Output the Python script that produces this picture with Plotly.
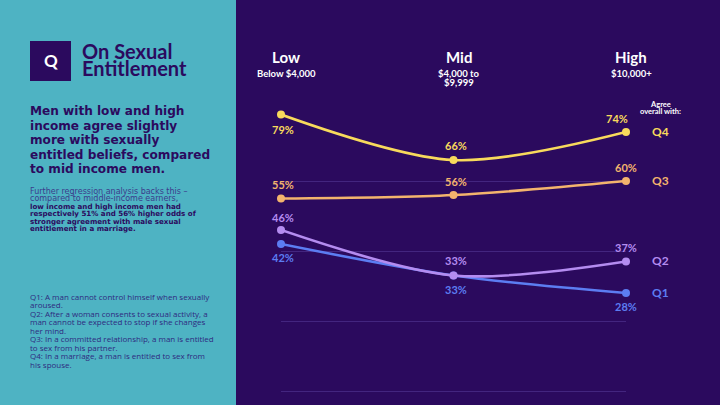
import plotly.graph_objects as go

W, H = 720, 405

categories = ["Low", "Mid", "High"]
cat_sub = [["Below $4,000"], ["$4,000 to", "$9,999"], ["$10,000+"]]
series_names = ["Q1", "Q2", "Q3", "Q4"]
q1 = [42, 33, 28]
q2 = [46, 33, 37]
q3 = [55, 56, 60]
q4 = [79, 66, 74]
series_values = [q1, q2, q3, q4]
# label offsets (px, + is up) for each point's value label
label_shift = {
    "Q1": [-13, -14, -13],
    "Q2": [13, 15, 14],
    "Q3": [14, 14, 14],
    "Q4": [-15, 15, 14],
}
label_xshift = {
    "Q1": [2, 2, 0],
    "Q2": [2, 2, 0],
    "Q3": [2, 2, 0],
    "Q4": [2, 2, -9],
}
colors = {"Q1": "#5C7DF2", "Q2": "#B48CF0", "Q3": "#F3B46D", "Q4": "#F8DA5C"}
y_ticks = [0, 20, 40, 60, 80]

BG = "#2B0A5E"
TEAL = "#4EB3C3"
DARK = "#2B0A5E"
BODY = "#2E2A80"

title_lines = ["On Sexual", "Entitlement"]
headline_lines = [
    "Men with low and high",
    "income agree slightly",
    "more with sexually",
    "entitled beliefs, compared",
    "to mid income men.",
]
para_lines = [
    ("Further regression analysis backs this \u2013", False),
    ("compared to middle-income earners,", False),
    ("low income and high income men had", True),
    ("respectively 51% and 56% higher odds of", True),
    ("stronger agreement with male sexual", True),
    ("entitlement in a marriage.", True),
]
q_def_lines = [
    "Q1: A man cannot control himself when sexually",
    "aroused.",
    "Q2: After a woman consents to sexual activity, a",
    "man cannot be expected to stop if she changes",
    "her mind.",
    "Q3: In a committed relationship, a man is entitled",
    "to sex from his partner.",
    "Q4: In a marriage, a man is entitled to sex from",
    "his spouse.",
]

fig = go.Figure()
xs = list(range(len(categories)))
for name, vals in zip(series_names, series_values):
    fig.add_trace(go.Scatter(
        x=xs, y=vals, mode="lines+markers", name=name,
        line=dict(color=colors[name], width=2.6, shape="spline", smoothing=0.9),
        marker=dict(color=colors[name], size=8),
        cliponaxis=False, showlegend=False, hoverinfo="skip",
    ))

ann = []
def px_text(x, y, text, size, color, bold=False, family="Open Sans", xanchor="left"):
    ann.append(dict(
        xref="paper", yref="paper", x=x / W, y=1 - y / H, text=f"<b>{text}</b>" if bold else text,
        showarrow=False, xanchor=xanchor, yanchor="middle",
        font=dict(size=size, color=color, family=family),
    ))

# left panel texts
for i, t in enumerate(title_lines):
    px_text(80, 51 + i * 17, t, 20, DARK, True, "Lato")
ann.append(dict(xref="paper", yref="paper", x=50.5 / W, y=1 - 61 / H, text="<b>Q</b>",
                showarrow=False, xanchor="center", yanchor="middle",
                font=dict(size=17, color="white", family="Lato")))
for i, t in enumerate(headline_lines):
    px_text(28, 111 + i * 14.5, t, 12.1, DARK, True, "DejaVu Sans")
for i, (t, b) in enumerate(para_lines):
    if b:
        px_text(28, 191 + i * 7.5, t, 7.1, DARK, True, "DejaVu Sans")
    else:
        px_text(28, 191 + i * 7.5, t, 8.0, "#3B3C8C", False, "DejaVu Sans")
for i, t in enumerate(q_def_lines):
    px_text(28, 296 + i * 8.5, t, 8.0, BODY, False, "Open Sans")

# category headers
for i, c in enumerate(categories):
    ann.append(dict(xref="x", yref="paper", x=i, xshift=5, y=1 - 57 / H, text=f"<b>{c}</b>",
                    showarrow=False, xanchor="center", yanchor="middle",
                    font=dict(size=15, color="white", family="Lato")))
    for j, s in enumerate(cat_sub[i]):
        ann.append(dict(xref="x", yref="paper", x=i, xshift=5, y=1 - (73 + j * 9) / H, text=f"<b>{s}</b>",
                        showarrow=False, xanchor="center", yanchor="middle",
                        font=dict(size=9.5, color="white", family="Lato")))

for j, s in enumerate(["Agree", "overall with:"]):
    ann.append(dict(xref="paper", yref="paper", x=660 / W, y=1 - (104 + j * 7.5) / H,
                    text=f"<b>{s}</b>", showarrow=False, xanchor="center", yanchor="middle",
                    font=dict(size=7.5, color="white", family="Lato")))

# value labels and series names
for name, vals in zip(series_names, series_values):
    for i, v in enumerate(vals):
        ann.append(dict(xref="x", yref="y", x=i, y=v, text=f"<b>{v}%</b>", showarrow=False,
                        xanchor="center", yanchor="middle", yshift=label_shift[name][i],
                        xshift=label_xshift[name][i],
                        font=dict(size=11, color=colors[name], family="Lato")))
    ann.append(dict(xref="x", yref="y", x=len(vals) - 1, y=vals[-1], text=f"<b>{name}</b>",
                    showarrow=False, xanchor="center", yanchor="middle", xshift=34, yshift=1,
                    font=dict(size=12, color=colors[name], family="Lato")))

shapes = [
    dict(type="rect", xref="paper", yref="paper", x0=0, x1=236 / W, y0=0, y1=1,
         fillcolor=TEAL, line=dict(width=0), layer="below"),
    dict(type="rect", xref="paper", yref="paper", x0=30 / W, x1=71 / W, y0=1 - 81 / H, y1=1 - 41 / H,
         fillcolor=DARK, line=dict(width=0), layer="below"),
]

fig.update_layout(
    width=W, height=H, margin=dict(l=0, r=0, t=0, b=0),
    paper_bgcolor=BG, plot_bgcolor="rgba(0,0,0,0)",
    xaxis=dict(domain=[281 / W, 626 / W], range=[0, 2], visible=False, fixedrange=True),
    yaxis=dict(domain=[1 - 391 / H, 1 - 111 / H], range=[0, 80], tickvals=y_ticks,
               showticklabels=False, showgrid=True, gridcolor="#43257F", gridwidth=1,
               zeroline=True, zerolinecolor="#43257F", zerolinewidth=1,
               showline=False, fixedrange=True),
    annotations=ann, shapes=shapes,
)
fig.write_html("out.html", config={"displayModeBar": False},
               post_script="document.body.style.margin='0px';document.body.style.overflow='hidden';")
